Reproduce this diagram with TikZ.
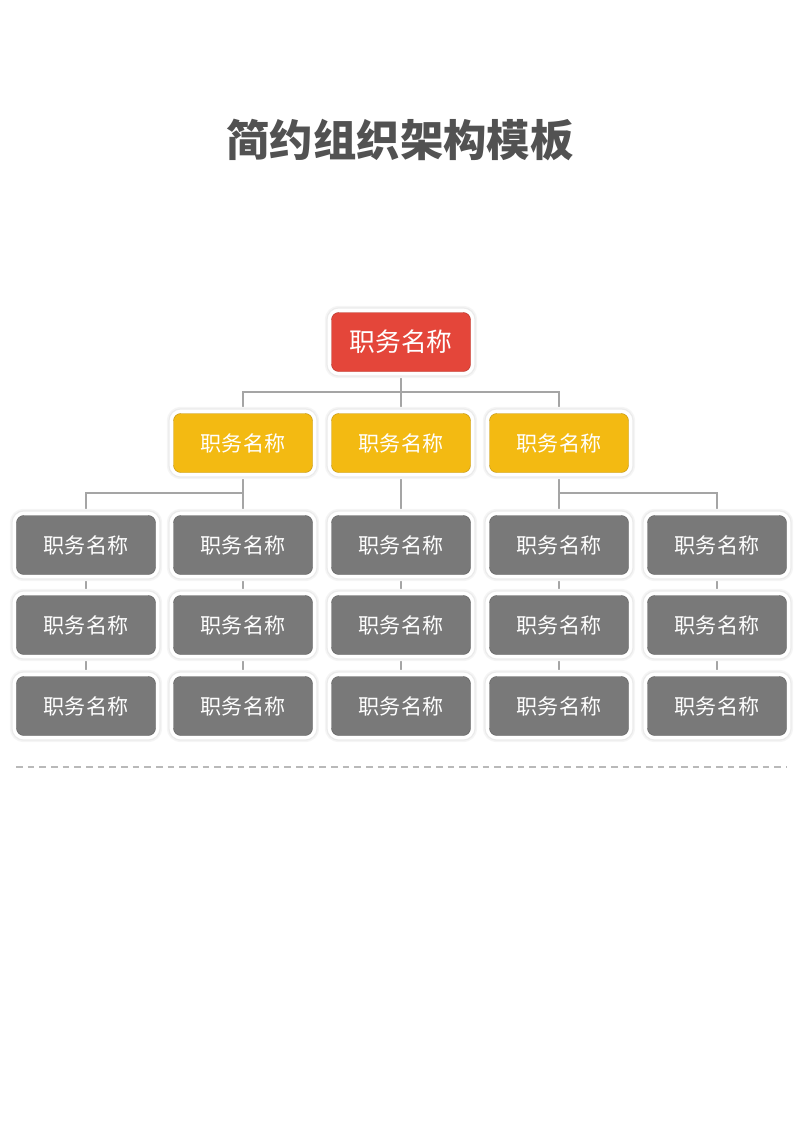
\documentclass[tikz,border=0pt]{standalone}
\usepackage{fontspec}
\newfontfamily\cjk{Noto Sans CJK SC}
\usetikzlibrary{backgrounds}

\definecolor{chiefred}{RGB}{228,70,58}
\definecolor{mgryellow}{RGB}{243,186,18}
\definecolor{staffgray}{RGB}{121,121,121}
\definecolor{titlegray}{RGB}{82,82,82}
\definecolor{linegray}{RGB}{165,165,165}
\definecolor{sepgray}{RGB}{185,185,185}

\tikzset{
  postbox/.style={rounded corners=2.2mm, minimum width=41.7mm, minimum height=17.7mm,
    text=white, font=\cjk\fontsize{18}{18}\selectfont, fill=#1, draw=#1!80!black, line width=0.4pt,
    preaction={draw=black!4, line width=4mm},
    preaction={draw=black!8, line width=3.1mm},
    preaction={draw=white, line width=2.3mm}},
  link/.style={draw=linegray, line width=0.6mm}
}

\begin{document}
\begin{tikzpicture}[x=0.3mm, y=-0.3mm]
    \useasboundingbox (0,0) rectangle (800,1131);
    \node (title) at (400,140) [font=\cjk\bfseries\fontsize{37}{37}\selectfont, text=titlegray] {简约组织架构模板};
    % top post
    \node (T) at (401,342) [postbox=chiefred, font=\cjk\fontsize{22}{22}\selectfont] {职务名称};
    % second level
    \foreach \i/\x in {1/243, 2/401, 3/559}
        \node (M\i) at (\x,443) [postbox=mgryellow] {职务名称};
    % staff grid
    \foreach \c/\x in {1/86, 2/243, 3/401, 4/559, 5/717}
        \foreach \r/\y in {1/545, 2/625, 3/706}
            \node (S\c\r) at (\x,\y) [postbox=staffgray] {职务名称};
    \begin{scope}[on background layer]
        \draw [link] (T.south) -- ++(0,20) coordinate (tj);
        \draw [link] (M1.north) |- (tj) -| (M3.north);
        \draw [link] (tj) -- (M2.north);
        \draw [link] (M1.south) -- ++(0,20) coordinate (lj);
        \draw [link] (S11.north) |- (lj) -- (S21.north);
        \draw [link] (M2.south) -- (S31.north);
        \draw [link] (M3.south) -- ++(0,20) coordinate (rj);
        \draw [link] (rj) -- (S41.north);
        \draw [link] (rj) -| (S51.north);
        \foreach \c in {1,...,5}
            \draw [link] (S\c1) -- (S\c2) (S\c2) -- (S\c3);
    \end{scope}
    \draw [sepgray, line width=0.45mm, dash pattern=on 2mm off 1.5mm] (16,767) -- (787,767);
\end{tikzpicture}
\end{document}
